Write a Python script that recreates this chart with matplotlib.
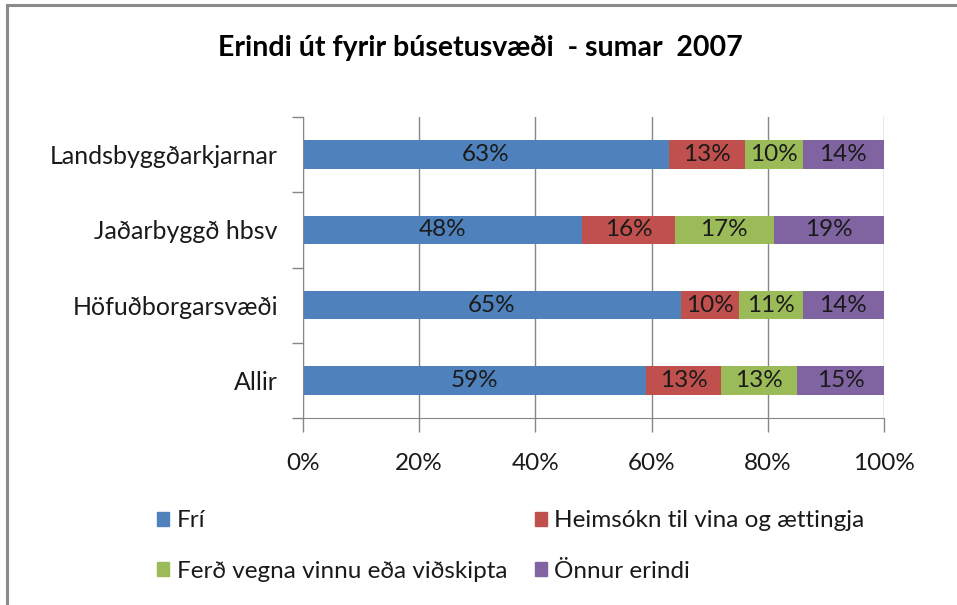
import matplotlib
matplotlib.use("Agg")
import matplotlib.pyplot as plt
from matplotlib.patches import Rectangle
from matplotlib.lines import Line2D
import numpy as np

plt.rcParams['font.family'] = ['Lato', 'DejaVu Sans']

title = "Erindi út fyrir búsetusvæði  - sumar  2007"
categories = ["Allir", "Höfuðborgarsvæði", "Jaðarbyggð hbsv", "Landsbyggðarkjarnar"]
series_names = ["Frí", "Heimsókn til vina og ættingja", "Ferð vegna vinnu eða viðskipta", "Önnur erindi"]
fri = [59, 65, 48, 63]
heimsokn = [13, 10, 16, 13]
ferd = [13, 11, 17, 10]
onnur = [15, 14, 19, 14]
xtick_values = [0, 20, 40, 60, 80, 100]
xtick_labels = ["0%", "20%", "40%", "60%", "80%", "100%"]

colors = ["#4F81BD", "#C0504D", "#9BBB59", "#8064A2"]
grey = "#868686"

W, H = 957, 605
fig = plt.figure(figsize=(W / 100, H / 100), dpi=100)
fig.patch.set_facecolor("white")

# outer frame (top and left visible)
fig.add_artist(Line2D([7 / W, 7 / W], [0, 1 - 5 / H], transform=fig.transFigure, color="#8a8a8a", lw=2.2))
fig.add_artist(Line2D([7 / W, 1], [1 - 5 / H, 1 - 5 / H], transform=fig.transFigure, color="#8a8a8a", lw=2.2))

ax = fig.add_axes([303 / W, (H - 418) / H, 581 / W, 301 / H])

series = [fri, heimsokn, ferd, onnur]
y = np.arange(len(categories))
left = np.zeros(len(categories))
for vals, name, c in zip(series, series_names, colors):
    vals = np.array(vals, dtype=float)
    ax.barh(y, vals, left=left, height=0.38, color=c, label=name, zorder=3)
    for yi, l, v in zip(y, left, vals):
        ax.text(l + v / 2, yi, f"{int(v)}%", ha="center", va="center",
                fontsize=17.5, color="#1a1a1a", zorder=4)
    left += vals

ax.set_xlim(0, 100)
ax.set_ylim(-0.5, 3.5)
ax.set_xticks(xtick_values)
ax.set_xticklabels(xtick_labels, fontsize=17.5)
ax.xaxis.grid(True, color=grey, lw=1.0, zorder=0)
ax.tick_params(axis="x", direction="out", length=10, color=grey, width=1.0, pad=15, labelcolor="#1a1a1a")

ax.set_yticks(np.arange(-0.5, 4, 1.0))
ax.set_yticklabels([])
ax.set_yticks(y, minor=True)
ax.set_yticklabels(categories, minor=True, fontsize=18, color="#1a1a1a")
ax.tick_params(axis="y", which="major", direction="out", length=8, color=grey, width=1.0)
ax.tick_params(axis="y", which="minor", length=0, pad=18)

for s in ["top", "right"]:
    ax.spines[s].set_visible(False)
ax.spines["left"].set_color(grey)
ax.spines["bottom"].set_color(grey)
ax.spines["left"].set_zorder(5)

fig.text(480 / W, 1 - 48 / H, title, ha="center", va="center", fontsize=20.5, fontweight="bold", color="black")

handles = [Rectangle((0, 0), 1, 1, color=c) for c in colors]
order = [0, 2, 1, 3]
leg = fig.legend([handles[i] for i in order], [series_names[i] for i in order],
                 ncol=2, loc="center left", bbox_to_anchor=(145 / W, 1 - 546 / H),
                 frameon=False, fontsize=17.5, handlelength=0.5, handleheight=0.5,
                 handletextpad=0.3, columnspacing=1.15, labelspacing=1.2, borderpad=0)
for t in leg.get_texts():
    t.set_color("#1a1a1a")

fig.savefig("out.png", dpi=100, facecolor="white")
